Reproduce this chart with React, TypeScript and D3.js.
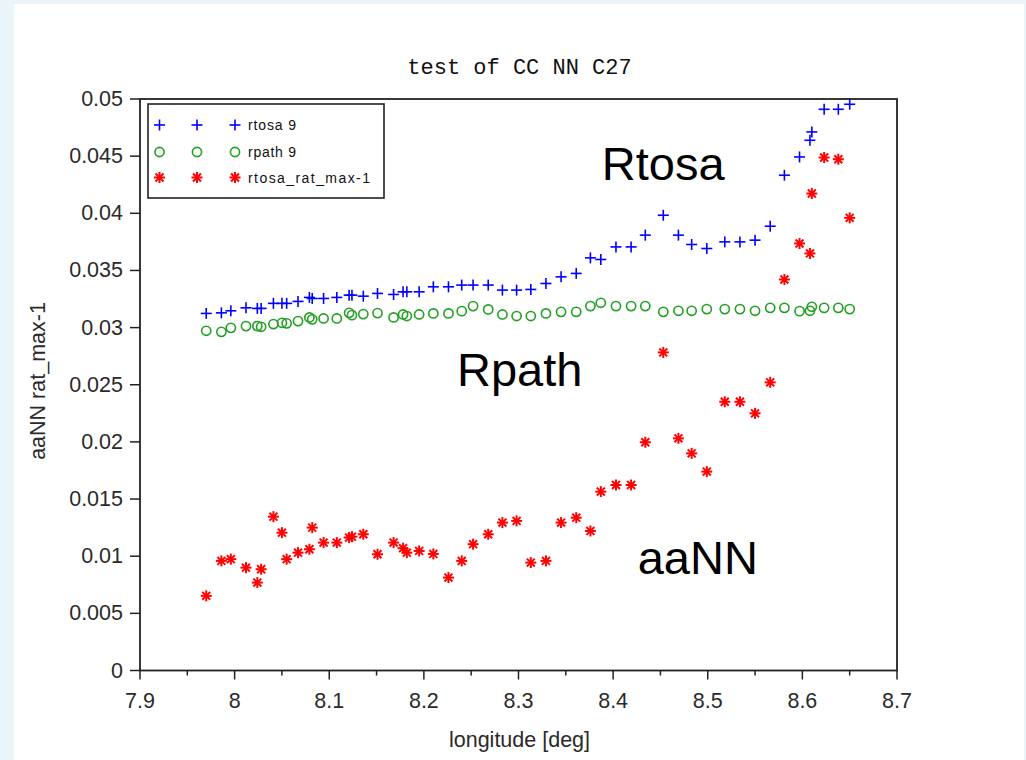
import React from "react";
import * as d3 from "d3";

const longitude = [7.970, 7.986, 7.996, 8.012, 8.024, 8.028, 8.041, 8.050, 8.055, 8.067, 8.079, 8.082, 8.094, 8.108, 8.121, 8.124, 8.136, 8.151, 8.168, 8.178, 8.182, 8.195, 8.210, 8.226, 8.240, 8.252, 8.268, 8.283, 8.298, 8.313, 8.329, 8.345, 8.361, 8.376, 8.387, 8.403, 8.419, 8.434, 8.453, 8.469, 8.483, 8.499, 8.518, 8.534, 8.550, 8.566, 8.581, 8.597, 8.608, 8.610, 8.623, 8.638, 8.650];

const rtosa = [0.03124, 0.03129, 0.03147, 0.03173, 0.03168, 0.03168, 0.03212, 0.03212, 0.03212, 0.03229, 0.03264, 0.03255, 0.03255, 0.03264, 0.03284, 0.03284, 0.03275, 0.03299, 0.03290, 0.03313, 0.03313, 0.03313, 0.03357, 0.03357, 0.03372, 0.03372, 0.03372, 0.03328, 0.03328, 0.03334, 0.03386, 0.03444, 0.03474, 0.03610, 0.03596, 0.03706, 0.03706, 0.03809, 0.03983, 0.03809, 0.03727, 0.03692, 0.03750, 0.03750, 0.03765, 0.03887, 0.04333, 0.04493, 0.04639, 0.04712, 0.04910, 0.04910, 0.04954];

const rpath = [0.02972, 0.02963, 0.02998, 0.03013, 0.03013, 0.03007, 0.03031, 0.03042, 0.03037, 0.03057, 0.03089, 0.03072, 0.03080, 0.03080, 0.03129, 0.03109, 0.03118, 0.03127, 0.03089, 0.03115, 0.03101, 0.03115, 0.03124, 0.03124, 0.03144, 0.03188, 0.03159, 0.03115, 0.03101, 0.03101, 0.03124, 0.03138, 0.03138, 0.03188, 0.03217, 0.03188, 0.03188, 0.03188, 0.03138, 0.03147, 0.03147, 0.03162, 0.03162, 0.03162, 0.03147, 0.03173, 0.03173, 0.03144, 0.03147, 0.03182, 0.03173, 0.03173, 0.03162];

const rtosaRatMax = [0.00653, 0.00959, 0.00974, 0.00900, 0.00769, 0.00886, 0.01346, 0.01206, 0.00974, 0.01031, 0.01061, 0.01250, 0.01119, 0.01119, 0.01163, 0.01171, 0.01192, 0.01017, 0.01119, 0.01070, 0.01031, 0.01046, 0.01020, 0.00813, 0.00959, 0.01105, 0.01192, 0.01294, 0.01309, 0.00944, 0.00959, 0.01294, 0.01337, 0.01221, 0.01565, 0.01623, 0.01623, 0.01997, 0.02783, 0.02031, 0.01900, 0.01740, 0.02351, 0.02351, 0.02250, 0.02521, 0.03421, 0.03736, 0.03649, 0.04173, 0.04488, 0.04473, 0.03960];

const xTicks = [7.9, 8.0, 8.1, 8.2, 8.3, 8.4, 8.5, 8.6, 8.7];
const xTickLabels = ["7.9", "8", "8.1", "8.2", "8.3", "8.4", "8.5", "8.6", "8.7"];
const xMinorTicks = [7.95, 8.05, 8.15, 8.25, 8.35, 8.45, 8.55, 8.65];
const yTicks = [0, 0.005, 0.01, 0.015, 0.02, 0.025, 0.03, 0.035, 0.04, 0.045, 0.05];
const yTickLabels = ["0", "0.005", "0.01", "0.015", "0.02", "0.025", "0.03", "0.035", "0.04", "0.045", "0.05"];

const legendLabels = ["rtosa 9", "rpath 9", "rtosa_rat_max-1"];
const annotations = [
  { text: "Rtosa", x: 8.388, y: 0.0429 },
  { text: "Rpath", x: 8.235, y: 0.0249 },
  { text: "aaNN", x: 8.426, y: 0.0084 },
];

const BLUE = "#0000ff";
const GREEN = "#22a022";
const RED = "#ff0000";
const AXIS = "#222";
const SANS = "'Liberation Sans', Arial, sans-serif";

function Plus({ x, y }: { x: number; y: number }) {
  const s = 5.5;
  return (
    <g stroke={BLUE} strokeWidth={1.6}>
      <line x1={x - s} x2={x + s} y1={y} y2={y} />
      <line x1={x} x2={x} y1={y - s} y2={y + s} />
    </g>
  );
}

function Circ({ x, y }: { x: number; y: number }) {
  return <circle cx={x} cy={y} r={4.6} fill="none" stroke={GREEN} strokeWidth={1.6} />;
}

function Star({ x, y }: { x: number; y: number }) {
  const s = 5.5;
  const d = s * 0.72;
  return (
    <g stroke={RED} strokeWidth={2}>
      <line x1={x - s} x2={x + s} y1={y} y2={y} />
      <line x1={x} x2={x} y1={y - s} y2={y + s} />
      <line x1={x - d} x2={x + d} y1={y - d} y2={y + d} />
      <line x1={x - d} x2={x + d} y1={y + d} y2={y - d} />
    </g>
  );
}

export default function App() {
  const W = 1026;
  const H = 760;
  const x = d3.scaleLinear().domain([7.9, 8.7]).range([140, 897]);
  const y = d3.scaleLinear().domain([0, 0.05]).range([670.5, 99]);
  const [x0, x1] = x.range();
  const [y0, y1] = y.range();

  const legendX = 148;
  const legendY = 104;
  const rowsY = [125, 152, 177.5];
  const markerXs = [159.5, 197, 235];
  const legendWidths = [48, 48, 122];

  return (
    <div style={{ position: "absolute", left: 0, top: 0 }}>
      <svg width={W} height={H} style={{ display: "block" }}>
        <rect x={0} y={0} width={W} height={H} fill="#ebf4f8" />
        <rect x={14} y={4} width={1010} height={H - 4} fill="#ffffff" />

        <text
          x={519.5}
          y={74}
          textAnchor="middle"
          fontFamily="'Liberation Mono', 'DejaVu Sans Mono', monospace"
          fontSize={22}
          fill="#111"
        >
          test of CC NN C27
        </text>

        {/* axes frame */}
        <rect x={x0} y={y1} width={x1 - x0} height={y0 - y1} fill="none" stroke={AXIS} strokeWidth={1.8} />

        {/* y ticks */}
        {yTicks.map((t, i) => (
          <g key={"yt" + i}>
            <line x1={x0 - 10} x2={x0} y1={y(t)} y2={y(t)} stroke={AXIS} strokeWidth={1.5} />
            <text x={123} y={y(t) + 7} textAnchor="end" fontFamily={SANS} fontSize={21.5} fill="#2a2a2a">
              {yTickLabels[i]}
            </text>
          </g>
        ))}

        {/* x ticks */}
        {xTicks.map((t, i) => (
          <g key={"xt" + i}>
            <line x1={x(t)} x2={x(t)} y1={y0} y2={y0 + 9} stroke={AXIS} strokeWidth={1.5} />
            <text x={x(t)} y={708} textAnchor="middle" fontFamily={SANS} fontSize={21.5} fill="#2a2a2a">
              {xTickLabels[i]}
            </text>
          </g>
        ))}
        {xMinorTicks.map((t, i) => (
          <line key={"xm" + i} x1={x(t)} x2={x(t)} y1={y0} y2={y0 + 5} stroke={AXIS} strokeWidth={1.5} />
        ))}

        <text x={519.5} y={747} textAnchor="middle" fontFamily={SANS} fontSize={21.5} fill="#2a2a2a">
          longitude [deg]
        </text>
        <text
          transform={`translate(45, ${381}) rotate(-90)`}
          textAnchor="middle"
          fontFamily={SANS}
          fontSize={21.5}
          fill="#2a2a2a"
        >
          aaNN rat_max-1
        </text>

        {/* data */}
        {longitude.map((lon, i) => (
          <Plus key={"p" + i} x={x(lon)} y={y(rtosa[i])} />
        ))}
        {longitude.map((lon, i) => (
          <Circ key={"c" + i} x={x(lon)} y={y(rpath[i])} />
        ))}
        {longitude.map((lon, i) => (
          <Star key={"s" + i} x={x(lon)} y={y(rtosaRatMax[i])} />
        ))}

        {/* legend */}
        <rect x={legendX} y={legendY} width={236} height={94} fill="#fff" stroke={AXIS} strokeWidth={1.6} />
        {markerXs.map((mx, j) => (
          <g key={"lm" + j}>
            <Plus x={mx} y={rowsY[0]} />
            <Circ x={mx} y={rowsY[1]} />
            <Star x={mx} y={rowsY[2]} />
          </g>
        ))}
        {legendLabels.map((l, i) => (
          <text
            key={"ll" + i}
            x={248}
            y={rowsY[i] + 5}
            fontFamily={SANS}
            fontSize={14}
            textLength={legendWidths[i]}
            lengthAdjust="spacing"
            fill="#111"
          >
            {l}
          </text>
        ))}

        {/* annotations */}
        {annotations.map((a, i) => (
          <text key={"an" + i} x={x(a.x)} y={y(a.y)} fontFamily={SANS} fontSize={47} fill="#000">
            {a.text}
          </text>
        ))}
      </svg>
    </div>
  );
}
